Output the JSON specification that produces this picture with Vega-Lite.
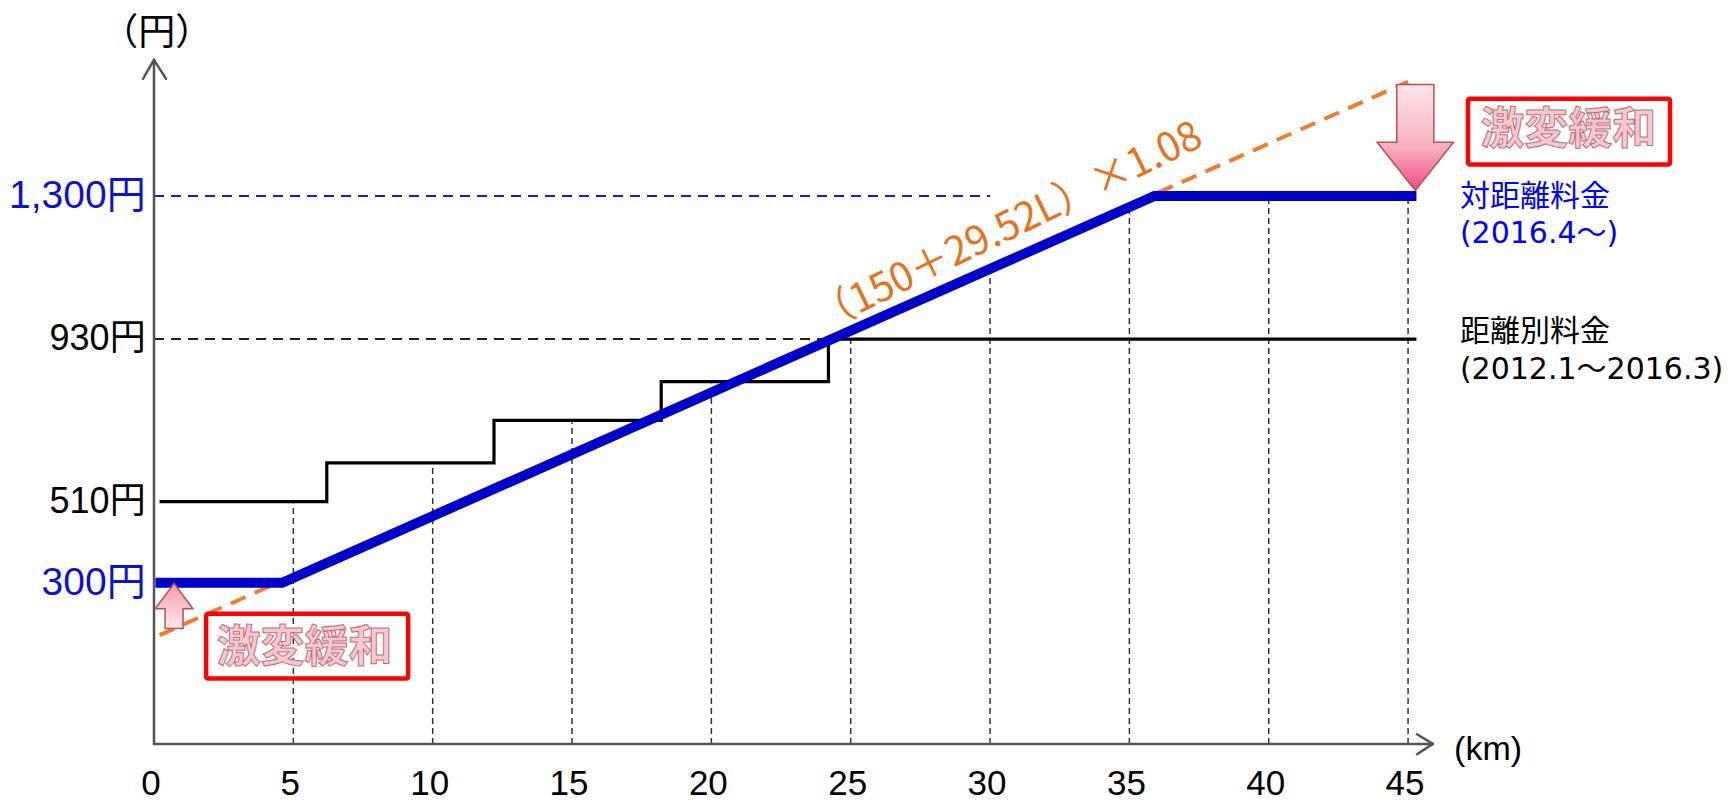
{
  "$schema": "https://vega.github.io/schema/vega-lite/v6.json",
  "width": 1728,
  "height": 802,
  "padding": 0,
  "autosize": {"type": "fit", "contains": "padding"},
  "background": "white",
  "view": {"stroke": null},
  "datasets": {
    "blue": [
      {"x": 0.05, "y": 300, "o": 1},
      {"x": 4.6, "y": 300, "o": 2},
      {"x": 35.9, "y": 1300, "o": 3},
      {"x": 45.3, "y": 1300, "o": 4}
    ],
    "step": [
      {"x": 0.2, "y": 510, "o": 1},
      {"x": 6.2, "y": 510, "o": 2},
      {"x": 6.2, "y": 610, "o": 3},
      {"x": 12.2, "y": 610, "o": 4},
      {"x": 12.2, "y": 720, "o": 5},
      {"x": 18.2, "y": 720, "o": 6},
      {"x": 18.2, "y": 820, "o": 7},
      {"x": 24.2, "y": 820, "o": 8},
      {"x": 24.2, "y": 930, "o": 9},
      {"x": 45.3, "y": 930, "o": 10}
    ],
    "orange": [
      {"x": 0.2, "y": 165, "o": 1},
      {"x": 45, "y": 1595, "o": 2}
    ],
    "rules": [
      {"kind": "grid", "x": 5, "y": -116.4, "x2": 5, "y2": 505},
      {"kind": "grid", "x": 10, "y": -116.4, "x2": 10, "y2": 605},
      {"kind": "grid", "x": 15, "y": -116.4, "x2": 15, "y2": 715},
      {"kind": "grid", "x": 20, "y": -116.4, "x2": 20, "y2": 815},
      {"kind": "grid", "x": 25, "y": -116.4, "x2": 25, "y2": 950},
      {"kind": "grid", "x": 30, "y": -116.4, "x2": 30, "y2": 1110},
      {"kind": "grid", "x": 35, "y": -116.4, "x2": 35, "y2": 1268},
      {"kind": "grid", "x": 40, "y": -116.4, "x2": 40, "y2": 1300},
      {"kind": "grid", "x": 45, "y": -116.4, "x2": 45, "y2": 1300},
      {"kind": "hblack", "x": 0, "y": 930, "x2": 24.2, "y2": 930},
      {"kind": "hblue", "x": 0, "y": 1300, "x2": 30, "y2": 1300},
      {"kind": "axis", "x": 0, "y": -116.4, "x2": 0, "y2": 1652},
      {"kind": "axis", "x": 0, "y": -116.4, "x2": 45.89, "y2": -116.4},
      {"kind": "axis", "x": -0.395, "y": 1603, "x2": 0, "y2": 1652},
      {"kind": "axis", "x": 0.43, "y": 1603, "x2": 0, "y2": 1652},
      {"kind": "axis", "x": 45.32, "y": -91.4, "x2": 45.89, "y2": -116.4},
      {"kind": "axis", "x": 45.32, "y": -143, "x2": 45.89, "y2": -116.4}
    ],
    "boxes": [
      {"x": 1.87, "x2": 9.12, "y": 220.3, "y2": 52.4},
      {"x": 47.15, "x2": 54.4, "y": 1551.6, "y2": 1381.6}
    ],
    "arrows": [
      {"dir": "down", "x": 45.26, "y": 1451},
      {"dir": "up", "x": 0.72, "y": 240}
    ],
    "texts": [
      {"kind": "ylab", "x": -0.3, "y": 930, "label": "930円"},
      {"kind": "ylab", "x": -0.3, "y": 510, "label": "510円"},
      {"kind": "ylabblue", "x": -0.3, "y": 1300, "label": "1,300円"},
      {"kind": "ylabblue", "x": -0.3, "y": 300, "label": "300円"},
      {"kind": "xlab", "x": 0, "y": -220, "label": "0"},
      {"kind": "xlab", "x": 5, "y": -220, "label": "5"},
      {"kind": "xlab", "x": 10, "y": -220, "label": "10"},
      {"kind": "xlab", "x": 15, "y": -220, "label": "15"},
      {"kind": "xlab", "x": 20, "y": -220, "label": "20"},
      {"kind": "xlab", "x": 25, "y": -220, "label": "25"},
      {"kind": "xlab", "x": 30, "y": -220, "label": "30"},
      {"kind": "xlab", "x": 35, "y": -220, "label": "35"},
      {"kind": "xlab", "x": 40, "y": -220, "label": "40"},
      {"kind": "xlab", "x": 45, "y": -220, "label": "45"},
      {"kind": "yunit", "x": 0.1, "y": 1718, "label": "（円）"},
      {"kind": "xunit", "x": 47.87, "y": -132.6, "label": "(km)"},
      {"kind": "legblue", "x": 46.86, "y": 1297, "label": "対距離料金"},
      {"kind": "legblue", "x": 46.86, "y": 1202, "label": "(2016.4～)"},
      {"kind": "legblack", "x": 46.86, "y": 949, "label": "距離別料金"},
      {"kind": "legblack", "x": 46.86, "y": 851, "label": "(2012.1～2016.3)"},
      {"kind": "formula", "x": 30.65, "y": 1218, "label": "（150＋29.52L）×1.08"},
      {"kind": "boxtext", "x": 5.4, "y": 130, "label": "激変緩和"},
      {"kind": "boxtext", "x": 50.75, "y": 1469, "label": "激変緩和"}
    ]
  },
  "encoding": {
    "x": {"field": "x", "type": "quantitative", "scale": {"domain": [-5.526, 56.48], "nice": false, "zero": false}, "axis": null},
    "y": {"field": "y", "type": "quantitative", "scale": {"domain": [-258.8, 1806.6], "nice": false, "zero": false}, "axis": null}
  },
  "layer": [
    {
      "data": {"name": "rules"},
      "transform": [{"filter": "datum.kind == 'grid'"}],
      "mark": {"type": "rule", "color": "#333333", "strokeWidth": 1.5, "strokeDash": [6, 4]},
      "encoding": {"x2": {"field": "x2"}, "y2": {"field": "y2"}}
    },
    {
      "data": {"name": "rules"},
      "transform": [{"filter": "datum.kind == 'hblack'"}],
      "mark": {"type": "rule", "color": "#222222", "strokeWidth": 2, "strokeDash": [10, 7]},
      "encoding": {"x2": {"field": "x2"}, "y2": {"field": "y2"}}
    },
    {
      "data": {"name": "rules"},
      "transform": [{"filter": "datum.kind == 'hblue'"}],
      "mark": {"type": "rule", "color": "#1a1ad8", "strokeWidth": 2, "strokeDash": [10, 7]},
      "encoding": {"x2": {"field": "x2"}, "y2": {"field": "y2"}}
    },
    {
      "data": {"name": "orange"},
      "mark": {"type": "line", "color": "#ED7D31", "strokeWidth": 4, "strokeDash": [16, 10]},
      "encoding": {"order": {"field": "o", "type": "quantitative"}}
    },
    {
      "data": {"name": "step"},
      "mark": {"type": "line", "color": "#000000", "strokeWidth": 3.2, "strokeJoin": "miter"},
      "encoding": {"order": {"field": "o", "type": "quantitative"}}
    },
    {
      "data": {"name": "blue"},
      "mark": {"type": "line", "color": "#0000C8", "strokeWidth": 10, "strokeJoin": "miter", "strokeCap": "butt"},
      "encoding": {"order": {"field": "o", "type": "quantitative"}}
    },
    {
      "data": {"name": "rules"},
      "transform": [{"filter": "datum.kind == 'axis'"}],
      "mark": {"type": "rule", "color": "#555555", "strokeWidth": 2.5, "strokeCap": "round"},
      "encoding": {"x2": {"field": "x2"}, "y2": {"field": "y2"}}
    },
    {
      "data": {"name": "boxes"},
      "mark": {"type": "rect", "filled": false, "color": "#ff0000", "strokeWidth": 4.5, "cornerRadius": 2},
      "encoding": {"x2": {"field": "x2"}, "y2": {"field": "y2"}}
    },
    {
      "data": {"name": "arrows"},
      "transform": [{"filter": "datum.dir == 'down'"}],
      "mark": {
        "type": "point",
        "shape": "M-0.35,-1 L0.35,-1 L0.35,0.09 L0.72,0.09 L0,1 L-0.72,0.09 L-0.35,0.09 Z",
        "size": 11236,
        "filled": true,
        "opacity": 1,
        "fill": {"gradient": "linear", "x1": 0, "y1": 0, "x2": 0, "y2": 1, "stops": [{"offset": 0, "color": "#fde6ea"}, {"offset": 0.6, "color": "#f7aebb"}, {"offset": 1, "color": "#f04a88"}]},
        "stroke": "#c0504d",
        "strokeWidth": 1.5
      }
    },
    {
      "data": {"name": "arrows"},
      "transform": [{"filter": "datum.dir == 'up'"}],
      "mark": {
        "type": "point",
        "shape": "M0,-1 L0.84,0.12 L0.4,0.12 L0.4,1 L-0.4,1 L-0.4,0.12 L-0.84,0.12 Z",
        "size": 2025,
        "filled": true,
        "opacity": 1,
        "fill": {"gradient": "linear", "x1": 0, "y1": 0, "x2": 0, "y2": 1, "stops": [{"offset": 0, "color": "#f59cac"}, {"offset": 1, "color": "#fde8ec"}]},
        "stroke": "#c0504d",
        "strokeWidth": 1.5
      }
    },
    {
      "data": {"name": "texts"},
      "transform": [{"filter": "datum.kind == 'ylab'"}],
      "mark": {"type": "text", "align": "right", "baseline": "middle", "fontSize": 36, "font": "Liberation Sans, Noto Sans CJK JP", "color": "#000000"},
      "encoding": {"text": {"field": "label"}}
    },
    {
      "data": {"name": "texts"},
      "transform": [{"filter": "datum.kind == 'ylabblue'"}],
      "mark": {"type": "text", "align": "right", "baseline": "middle", "fontSize": 39, "font": "Liberation Sans, Noto Sans CJK JP", "color": "#1010d0"},
      "encoding": {"text": {"field": "label"}}
    },
    {
      "data": {"name": "texts"},
      "transform": [{"filter": "datum.kind == 'xlab'"}],
      "mark": {"type": "text", "align": "center", "baseline": "middle", "fontSize": 35, "dx": -3, "font": "Liberation Sans Narrow, Liberation Sans", "color": "#000000"},
      "encoding": {"text": {"field": "label"}}
    },
    {
      "data": {"name": "texts"},
      "transform": [{"filter": "datum.kind == 'yunit'"}],
      "mark": {"type": "text", "align": "center", "baseline": "middle", "fontSize": 37, "font": "Noto Sans CJK JP", "color": "#000000"},
      "encoding": {"text": {"field": "label"}}
    },
    {
      "data": {"name": "texts"},
      "transform": [{"filter": "datum.kind == 'xunit'"}],
      "mark": {"type": "text", "align": "center", "baseline": "middle", "fontSize": 34, "font": "Liberation Sans", "color": "#000000"},
      "encoding": {"text": {"field": "label"}}
    },
    {
      "data": {"name": "texts"},
      "transform": [{"filter": "datum.kind == 'legblue'"}],
      "mark": {"type": "text", "align": "left", "baseline": "middle", "fontSize": 30, "font": "DejaVu Sans, Noto Sans CJK JP", "color": "#0000ff"},
      "encoding": {"text": {"field": "label"}}
    },
    {
      "data": {"name": "texts"},
      "transform": [{"filter": "datum.kind == 'legblack'"}],
      "mark": {"type": "text", "align": "left", "baseline": "middle", "fontSize": 30, "font": "DejaVu Sans, Noto Sans CJK JP", "color": "#000000"},
      "encoding": {"text": {"field": "label"}}
    },
    {
      "data": {"name": "texts"},
      "transform": [{"filter": "datum.kind == 'formula'"}],
      "mark": {"type": "text", "align": "center", "baseline": "middle", "fontSize": 40, "angle": -26, "font": "Noto Sans CJK JP", "color": "#E8721C"},
      "encoding": {"text": {"field": "label"}}
    },
    {
      "data": {"name": "texts"},
      "transform": [{"filter": "datum.kind == 'boxtext'"}],
      "mark": {"type": "text", "align": "center", "baseline": "middle", "fontSize": 44, "fontWeight": "bold", "font": "Noto Sans CJK JP", "fill": "#f6c8ce", "stroke": "#c0707a", "strokeWidth": 1},
      "encoding": {"text": {"field": "label"}}
    }
  ]
}
